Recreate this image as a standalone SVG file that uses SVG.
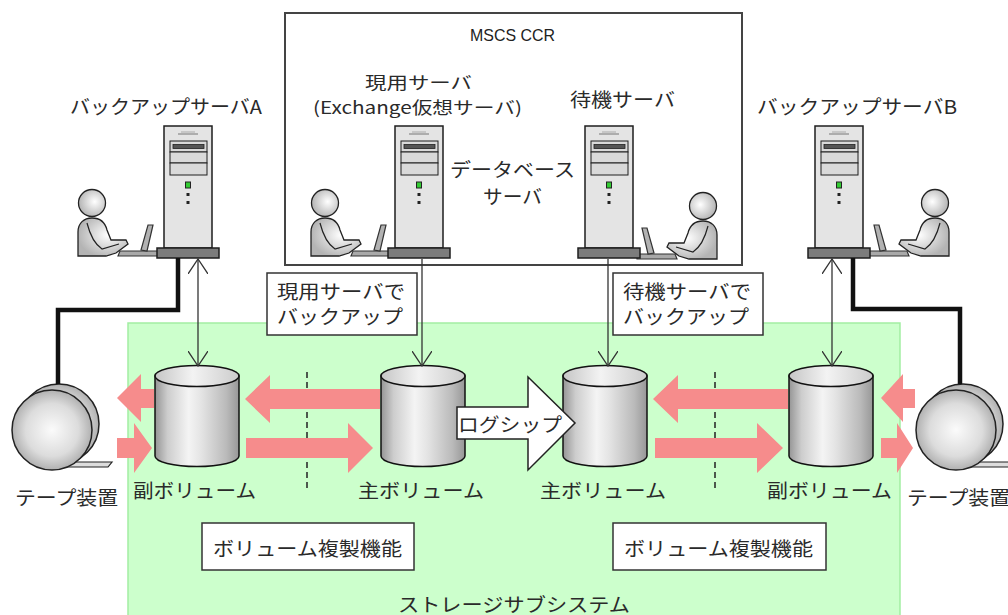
<svg xmlns="http://www.w3.org/2000/svg" xmlns:xlink="http://www.w3.org/1999/xlink" width="1008" height="615" viewBox="0 0 1008 615">
  <style>
    .t { font-family: "Noto Sans CJK JP", "Noto Sans", sans-serif; font-size: 19px; fill: #2a2a2a; dominant-baseline: central; }
    .t17 { font-size: 17px; }
    .lat { font-family: "Liberation Sans", "Noto Sans CJK JP", sans-serif; font-size: 17px; fill: #222222; dominant-baseline: central; }
    .box { fill: #ffffff; stroke: #333333; stroke-width: 1.5; }
    .pink { fill: #f68c8c; }
    .conn { stroke: #333333; stroke-width: 1.3; fill: none; }
    .thick { stroke: #111111; stroke-width: 4.5; fill: none; }
    .dash { stroke: #222222; stroke-width: 1.5; stroke-dasharray: 6 4; fill: none; }
    .ol { stroke: #1e1e1e; stroke-width: 1.5; }
  </style>
  <defs>
    <marker id="vhead" viewBox="0 0 16 20" refX="15" refY="10" markerWidth="16" markerHeight="20" markerUnits="userSpaceOnUse" orient="auto-start-reverse">
      <path d="M0,0 L15,10 L0,20" fill="none" stroke="#333" stroke-width="1.3"/>
    </marker>
    <linearGradient id="cylBody" x1="0" y1="0" x2="1" y2="0">
      <stop offset="0" stop-color="#959595"/>
      <stop offset="0.15" stop-color="#cdcdcd"/>
      <stop offset="0.4" stop-color="#f4f4f4"/>
      <stop offset="0.55" stop-color="#e4e4e4"/>
      <stop offset="0.85" stop-color="#bababa"/>
      <stop offset="1" stop-color="#979797"/>
    </linearGradient>
    <linearGradient id="cylTop" x1="0" y1="0" x2="1" y2="0">
      <stop offset="0" stop-color="#c6c6c6"/>
      <stop offset="0.45" stop-color="#f3f3f3"/>
      <stop offset="1" stop-color="#cccccc"/>
    </linearGradient>
    <radialGradient id="reel" cx="0.5" cy="0.5" r="0.55">
      <stop offset="0" stop-color="#fbfbfb"/>
      <stop offset="0.6" stop-color="#dcdcdc"/>
      <stop offset="1" stop-color="#a4a4a4"/>
    </radialGradient>
    <radialGradient id="skin" cx="0.6" cy="0.45" r="0.6">
      <stop offset="0" stop-color="#ffffff"/>
      <stop offset="1" stop-color="#b4b4b4"/>
    </radialGradient>

    <!-- tower server, origin at tower top-left -->
    <g id="tower">
      <rect x="0" y="0" width="48" height="122" fill="#e4e4e4" class="ol"/>
      <line x1="17" y1="6" x2="31" y2="6" stroke="#aaaaaa"/>
      <line x1="14" y1="8" x2="34" y2="8" stroke="#777777"/>
      <rect x="6" y="15" width="37" height="11" fill="#d9d9d9" stroke="#1e1e1e"/>
      <rect x="9" y="18.5" width="31" height="4" fill="#555555" stroke="#222" stroke-width="0.8"/>
      <rect x="6" y="26" width="37" height="11" fill="#d9d9d9" stroke="#1e1e1e"/>
      <rect x="6" y="37" width="37" height="12" fill="#d9d9d9" stroke="#1e1e1e"/>
      <rect x="21.5" y="56" width="5" height="6" fill="#33cc33" stroke="#222"/>
      <rect x="22.5" y="67" width="3" height="3" fill="#222"/>
      <rect x="22.5" y="75" width="3" height="3" fill="#222"/>
      <rect x="-7" y="122" width="62" height="10" fill="#7c7c7c" class="ol"/>
    </g>

    <!-- operator at a laptop, facing right, origin at head centre -->
    <g id="operator">
      <polygon points="28,48 66,48 66,53 26,53" fill="#a9a9a9" stroke="#333" stroke-width="1.2"/>
      <polygon points="49,47 56,22 61,22 55,48" fill="#b2b2b2" stroke="#333" stroke-width="1.2"/>
      <path d="M-14,53 L-14,29 C-14,20 -8,15 0,15 C8,15 13,19 15,27 L19,37 L34,37 L36,41 L24,50 L14,53 Z" fill="url(#skin)" stroke="#222" stroke-width="1.3"/>
      <path d="M-5,20 C-2,32 4,42 10,46 L27,41" fill="none" stroke="#222" stroke-width="1.2"/>
      <circle cx="0" cy="0" r="13.5" fill="url(#skin)" stroke="#222" stroke-width="1.3"/>
    </g>

    <!-- volume cylinder, origin at centre of the top ellipse -->
    <g id="cyl">
      <path d="M-42,0 L-42,80 A42,10.5 0 0 0 42,80 L42,0 Z" fill="url(#cylBody)" stroke="#111" stroke-width="1.5"/>
      <ellipse cx="0" cy="0" rx="42" ry="10.5" fill="url(#cylTop)" stroke="#111" stroke-width="1.5"/>
    </g>

    <!-- tape device, origin at front reel centre -->
    <g id="tape">
      <polygon points="12,32 60,32 56,37 12,37" fill="#dddddd" stroke="#222" stroke-width="1.2"/>
      <circle cx="7" cy="-6" r="40" fill="url(#reel)" stroke="#222" stroke-width="1.5"/>
      <circle cx="0" cy="0" r="40" fill="url(#reel)" stroke="#222" stroke-width="1.5"/>
    </g>
  </defs>

  <!-- storage subsystem area -->
  <g id="storage-subsystem">
    <rect x="128" y="323" width="772" height="300" fill="#ccffcc" stroke="#a2eea2" stroke-width="1.5"/>
    <text class="t" x="398" y="603" textLength="232" lengthAdjust="spacingAndGlyphs">ストレージサブシステム</text>
  </g>

  <!-- cluster frame -->
  <g id="mscs-ccr">
    <rect x="285" y="13" width="457" height="252" fill="#ffffff" stroke="#444444" stroke-width="2"/>
    <text class="lat" x="470" y="35" textLength="85" lengthAdjust="spacingAndGlyphs">MSCS CCR</text>
    <text class="t" x="450" y="168" textLength="125" lengthAdjust="spacingAndGlyphs">データベース</text>
    <text class="t" x="483" y="195" textLength="59" lengthAdjust="spacingAndGlyphs">サーバ</text>
  </g>

  <g id="backup-server-a">
    <text class="t" x="70" y="105" textLength="192" lengthAdjust="spacingAndGlyphs">バックアップサーバA</text>
    <use xlink:href="#operator" transform="translate(92,203)"/>
    <use xlink:href="#tower" x="164" y="126"/>
  </g>

  <g id="active-server">
    <text class="t t17" x="365" y="81" textLength="107" lengthAdjust="spacingAndGlyphs">現用サーバ</text>
    <text class="t t17" x="313" y="106" textLength="209" lengthAdjust="spacingAndGlyphs">(Exchange仮想サーバ)</text>
    <use xlink:href="#operator" transform="translate(325,203)"/>
    <use xlink:href="#tower" x="395" y="126"/>
  </g>

  <g id="standby-server">
    <text class="t" x="570" y="98" textLength="105" lengthAdjust="spacingAndGlyphs">待機サーバ</text>
    <use xlink:href="#operator" transform="translate(703,206) scale(-1,1)"/>
    <use xlink:href="#tower" x="585" y="126"/>
  </g>

  <g id="backup-server-b">
    <text class="t" x="757" y="105" textLength="200" lengthAdjust="spacingAndGlyphs">バックアップサーバB</text>
    <use xlink:href="#operator" transform="translate(935,203) scale(-1,1)"/>
    <use xlink:href="#tower" x="815" y="126"/>
  </g>

  <g id="note-active-backup">
    <rect class="box" x="267" y="273" width="150" height="62"/>
    <text class="t" x="277" y="290" textLength="128" lengthAdjust="spacingAndGlyphs">現用サーバで</text>
    <text class="t" x="277" y="315" textLength="126" lengthAdjust="spacingAndGlyphs">バックアップ</text>
  </g>

  <g id="note-standby-backup">
    <rect class="box" x="613" y="273" width="150" height="62"/>
    <text class="t" x="623" y="290" textLength="128" lengthAdjust="spacingAndGlyphs">待機サーバで</text>
    <text class="t" x="623" y="315" textLength="126" lengthAdjust="spacingAndGlyphs">バックアップ</text>
  </g>

  <g id="tape-a">
    <use xlink:href="#tape" transform="translate(52,430)"/>
    <text class="t" x="15" y="496" textLength="103" lengthAdjust="spacingAndGlyphs">テープ装置</text>
  </g>

  <g id="tape-b">
    <use xlink:href="#tape" transform="translate(956,430)"/>
    <text class="t" x="907" y="496" textLength="103" lengthAdjust="spacingAndGlyphs">テープ装置</text>
  </g>

  <g id="secondary-volume-a">
    <use xlink:href="#cyl" transform="translate(197,376)"/>
    <text class="t" x="133" y="489" textLength="123" lengthAdjust="spacingAndGlyphs">副ボリューム</text>
  </g>

  <g id="primary-volume-active">
    <use xlink:href="#cyl" transform="translate(423,376)"/>
    <text class="t" x="358" y="489" textLength="126" lengthAdjust="spacingAndGlyphs">主ボリューム</text>
  </g>

  <g id="primary-volume-standby">
    <use xlink:href="#cyl" transform="translate(605,376)"/>
    <text class="t" x="540" y="489" textLength="126" lengthAdjust="spacingAndGlyphs">主ボリューム</text>
  </g>

  <g id="secondary-volume-b">
    <use xlink:href="#cyl" transform="translate(831,376)"/>
    <text class="t" x="767" y="489" textLength="125" lengthAdjust="spacingAndGlyphs">副ボリューム</text>
  </g>

  <g id="replication-a">
    <rect class="box" x="202" y="523" width="212" height="47"/>
    <text class="t" x="213" y="547" textLength="189" lengthAdjust="spacingAndGlyphs">ボリューム複製機能</text>
  </g>

  <g id="replication-b">
    <rect class="box" x="613" y="523" width="213" height="47"/>
    <text class="t" x="624" y="547" textLength="189" lengthAdjust="spacingAndGlyphs">ボリューム複製機能</text>
  </g>

  <g id="connectors">
    <!-- tape cabling -->
    <polyline class="thick" points="58,384 58,310 178,310 178,258"/>
    <polyline class="thick" points="960,384 960,309 853,309 853,258"/>

    <!-- server to volume access -->
    <line class="conn" x1="198" y1="259" x2="198" y2="366" marker-start="url(#vhead)" marker-end="url(#vhead)"/>
    <line class="conn" x1="422" y1="259" x2="422" y2="366" marker-end="url(#vhead)"/>
    <line class="conn" x1="608" y1="259" x2="608" y2="366" marker-end="url(#vhead)"/>
    <line class="conn" x1="832" y1="259" x2="832" y2="366" marker-start="url(#vhead)" marker-end="url(#vhead)"/>

    <!-- split points of the replication pairs -->
    <line class="dash" x1="307" y1="372" x2="307" y2="488"/>
    <line class="dash" x1="715" y1="372" x2="715" y2="488"/>

    <!-- copy flows -->
    <polygon class="pink" points="117,398 141,374 141,389 154,389 154,408 141,408 141,422"/>
    <polygon class="pink" points="117,438 134,438 134,423 152,448 134,473 134,458 117,458"/>
    <polygon class="pink" points="245,399 270,375 270,389 380,389 380,409 270,409 270,423"/>
    <polygon class="pink" points="246,438 348,438 348,423 373,448 348,473 348,458 246,458"/>
    <polygon class="pink" points="653,399 678,375 678,389 788,389 788,409 678,409 678,423"/>
    <polygon class="pink" points="655,438 757,438 757,423 783,448 757,473 757,458 655,458"/>
    <polygon class="pink" points="881,398 903,374 903,389 915,389 915,408 903,408 903,422"/>
    <polygon class="pink" points="881,438 897,438 897,423 913,448 897,473 897,458 881,458"/>

    <!-- log shipping -->
    <polygon points="457,407 528,407 528,377 575,423 528,470 528,439 457,439" fill="#ffffff" stroke="#222" stroke-width="1.5"/>
    <text class="t" x="458" y="423" textLength="104" lengthAdjust="spacingAndGlyphs">ログシップ</text>
  </g>
</svg>
